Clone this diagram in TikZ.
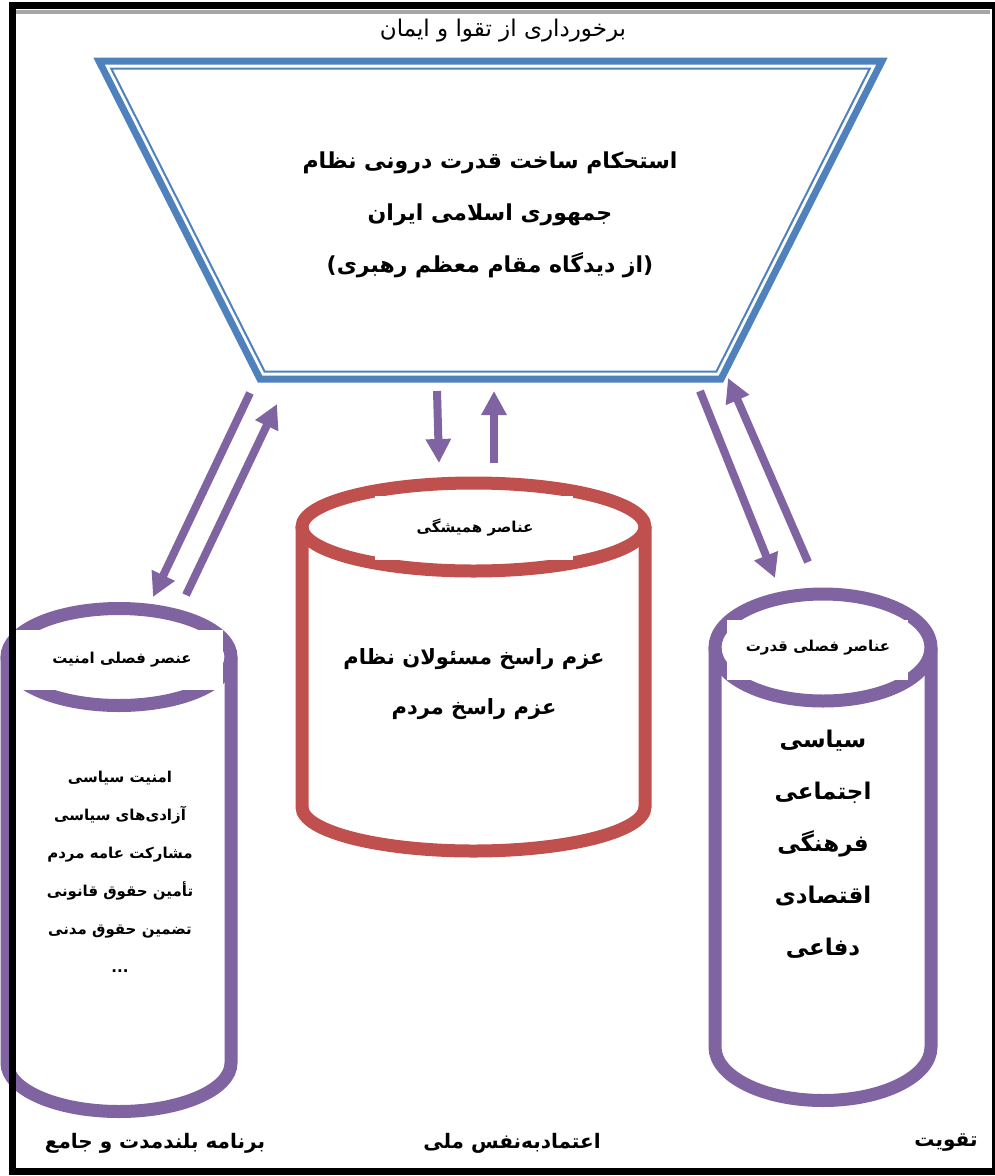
\documentclass[tikz,border=0pt]{standalone}
\usepackage{fontspec}
\usetikzlibrary{arrows.meta}
\TeXXeTstate=1
\newfontfamily\arabicfont[Script=Arabic]{DejaVu Sans}
\newcommand\myR[1]{\beginR#1\endR}
\definecolor{tblue}{HTML}{4F81BD}
\definecolor{tpurple}{HTML}{8064A2}
\definecolor{tred}{HTML}{C0504D}
\tikzset{
  arr/.style={draw=tpurple, line width=8pt, -{Triangle[length=24pt,width=24pt]}},
  cyl/.style={line width=13pt},
  lbox/.style={fill=white, inner sep=0pt},
  txt/.style={font=\arabicfont, align=center, inner sep=0pt},
}
\begin{document}
\begin{tikzpicture}[x=1pt,y=-1pt]
\useasboundingbox (0,0) rectangle (994,1176);
\fill[white] (0,0) rectangle (994,1176);

% title
\node[txt, font=\arabicfont\fontsize{23}{27}\selectfont] (title) at (503,31) {\myR{برخورداری از تقوا و ایمان}};

% trapezoid
\draw[tblue, line width=7pt, line join=miter] (99,61) -- (882,61) -- (721,379) -- (260,379) -- cycle;
\draw[tblue, line width=2pt, line join=miter] (111.2,68.5) -- (869.8,68.5) -- (716.4,371.5) -- (264.6,371.5) -- cycle;
\node[txt, font=\arabicfont\bfseries\fontsize{22}{52}\selectfont] (main) at (490,215)
  {\myR{استحکام ساخت قدرت درونی نظام}\\ \myR{جمهوری اسلامی ایران}\\ \myR{(از دیدگاه مقام معظم رهبری)}};

% center (red) cylinder
\draw[tred, cyl] (302,527) -- (302,807) arc[start angle=180, end angle=360, x radius=171.5pt, y radius=44pt] -- (645,527);
\draw[tred, cyl] (473.5,527) ellipse [x radius=171.5pt, y radius=44pt];
\node[lbox, minimum width=198pt, minimum height=64pt] (cbox) at (474,528) {};
\node[txt, font=\arabicfont\bfseries\fontsize{15}{18}\selectfont] (clabel) at (475,527) {\myR{عناصر همیشگی}};
\node[txt, font=\arabicfont\bfseries\fontsize{21}{50}\selectfont] (ctext) at (474,684)
  {\myR{عزم راسخ مسئولان نظام}\\ \myR{عزم راسخ مردم}};

% left cylinder
\draw[tpurple, cyl] (7,657) -- (7,1063) arc[start angle=180, end angle=360, x radius=112pt, y radius=48.5pt] -- (231,657);
\draw[tpurple, cyl] (119,657) ellipse [x radius=112pt, y radius=48.5pt];
\node[lbox, minimum width=208pt, minimum height=60pt] (lbx) at (119,660) {};
\node[txt, font=\arabicfont\bfseries\fontsize{15}{18}\selectfont] (llabel) at (122,660) {\myR{عنصر فصلی امنیت}};
\node[txt, font=\arabicfont\bfseries\fontsize{15}{38}\selectfont] (ltext) at (120,872)
  {\myR{امنیت سیاسی}\\ \myR{آزادی‌های سیاسی}\\ \myR{مشارکت عامه مردم}\\ \myR{تأمین حقوق قانونی}\\ \myR{تضمین حقوق مدنی}\\ ...};

% right cylinder
\draw[tpurple, cyl] (715,647.5) -- (715,1047) arc[start angle=180, end angle=360, x radius=108pt, y radius=53.5pt] -- (931,647.5);
\draw[tpurple, cyl] (823,647.5) ellipse [x radius=108pt, y radius=53.5pt];
\node[lbox, minimum width=181pt, minimum height=60pt] (rbx) at (817.5,650) {};
\node[txt, font=\arabicfont\bfseries\fontsize{15}{18}\selectfont] (rlabel) at (818,648) {\myR{عناصر فصلی قدرت}};
\node[txt, font=\arabicfont\bfseries\fontsize{23}{52}\selectfont] (rtext) at (823,844)
  {\myR{سیاسی}\\ \myR{اجتماعی}\\ \myR{فرهنگی}\\ \myR{اقتصادی}\\ \myR{دفاعی}};

% arrow end points
\coordinate (la1) at (250,393); \coordinate (la2) at (153,597);
\coordinate (lb1) at (186,595); \coordinate (lb2) at (277,404);
\coordinate (ca1) at (437,391); \coordinate (ca2) at (439,463);
\coordinate (cb1) at (494,463); \coordinate (cb2) at (494,391);
\coordinate (ra1) at (700,391); \coordinate (ra2) at (775,578);
\coordinate (rb1) at (808,562); \coordinate (rb2) at (728,378);
\draw[arr] (la1) -- (la2);
\draw[arr] (lb1) -- (lb2);
\draw[arr] (ca1) -- (ca2);
\draw[arr] (cb1) -- (cb2);
\draw[arr] (ra1) -- (ra2);
\draw[arr] (rb1) -- (rb2);

% bottom labels
\node[txt, font=\arabicfont\bfseries\fontsize{20}{24}\selectfont] (b1) at (155,1143) {\myR{برنامه بلندمدت و جامع}};
\node[txt, font=\arabicfont\bfseries\fontsize{20}{24}\selectfont] (b2) at (512,1143) {\myR{اعتمادبه‌نفس ملی}};
\node[txt, font=\arabicfont\bfseries\fontsize{20}{24}\selectfont] (b3) at (946,1143) {\myR{تقویت}};

% frame
\draw[gray!70, line width=4pt] (16,12) -- (990,12);
\draw[black, line width=7pt] (12,5) -- (995,5) -- (995,1171) -- (12,1171) -- cycle;
\end{tikzpicture}
\end{document}
